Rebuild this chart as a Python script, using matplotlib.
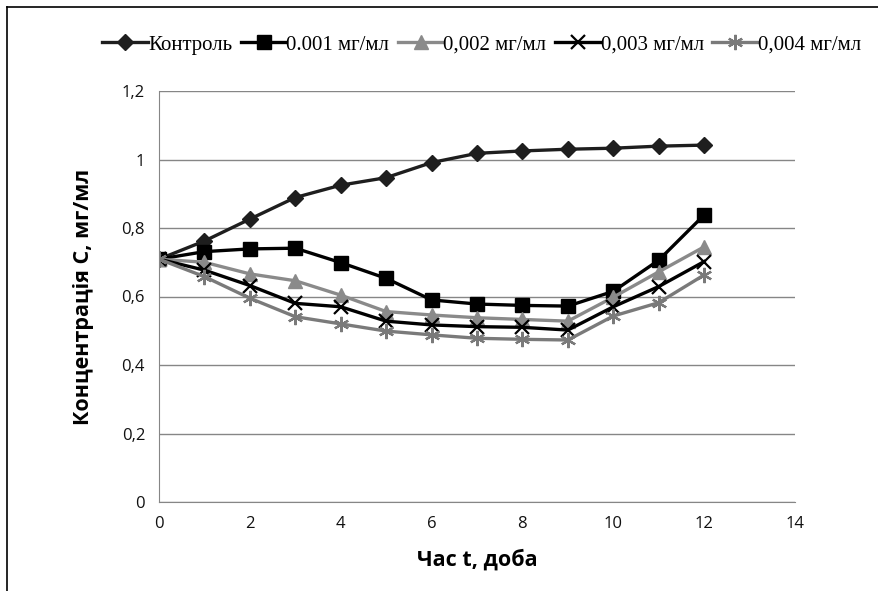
import matplotlib
matplotlib.use("Agg")
import matplotlib.pyplot as plt
from matplotlib.lines import Line2D

# Data
days = [0, 1, 2, 3, 4, 5, 6, 7, 8, 9, 10, 11, 12]
control = [0.709, 0.762, 0.826, 0.889, 0.925, 0.947, 0.991, 1.018, 1.025, 1.030, 1.033, 1.039, 1.042]
c_0001 = [0.709, 0.731, 0.739, 0.741, 0.699, 0.653, 0.590, 0.578, 0.574, 0.572, 0.615, 0.706, 0.838]
c_0002 = [0.709, 0.700, 0.666, 0.646, 0.604, 0.556, 0.546, 0.538, 0.533, 0.528, 0.598, 0.672, 0.745]
c_0003 = [0.709, 0.677, 0.632, 0.580, 0.570, 0.528, 0.517, 0.512, 0.510, 0.502, 0.570, 0.629, 0.702]
c_0004 = [0.709, 0.658, 0.595, 0.541, 0.520, 0.499, 0.488, 0.478, 0.475, 0.473, 0.543, 0.582, 0.663]

labels = ["Контроль", "0.001 мг/мл", "0,002 мг/мл", "0,003 мг/мл", "0,004 мг/мл"]

fig = plt.figure(figsize=(8.79, 5.91), dpi=100)
ax = fig.add_axes([159 / 879, 1 - 502 / 591, (795 - 159) / 879, (502 - 91) / 591])

ax.plot(days, control, color="#1e1e1e", lw=2.4, marker="D", ms=8, label=labels[0])
ax.plot(days, c_0001, color="#000000", lw=2.4, marker="s", ms=10.5, label=labels[1])
ax.plot(days, c_0002, color="#8a8a8a", lw=2.4, marker="^", ms=10, label=labels[2])
ax.plot(days, c_0003, color="#000000", lw=2.4, marker="x", ms=10, mew=1.6, label=labels[3])
ax.plot(days, c_0004, color="#7a7a7a", lw=2.4, marker=(6, 2, 0), ms=11, mew=1.6, label=labels[4])

ax.set_xlim(0, 14)
ax.set_ylim(0, 1.2)
ax.set_xticks(range(0, 15, 2))
ax.set_yticks([0, 0.2, 0.4, 0.6, 0.8, 1.0, 1.2])
ax.set_yticklabels(["0", "0,2", "0,4", "0,6", "0,8", "1", "1,2"])
ax.tick_params(length=0, labelsize=12, pad=10, colors="#111111")
for t in ax.get_xticklabels() + ax.get_yticklabels():
    t.set_family("Open Sans")

ax.grid(axis="y", color="#868686", lw=1.0)
ax.set_axisbelow(True)
for s in ["top", "right"]:
    ax.spines[s].set_visible(False)
ax.spines["left"].set_color("#868686")
ax.spines["bottom"].set_color("#868686")

ax.set_xlabel("Час t, доба", family="Open Sans", fontweight="bold", fontsize=15.5, labelpad=12)
ax.set_ylabel("Концентрація С, мг/мл", family="Open Sans", fontweight="bold", fontsize=15.5, labelpad=20)

fig.legend(loc="center", bbox_to_anchor=(0.548, 1 - 45 / 591), ncol=5, frameon=False,
           prop={"family": "Liberation Serif", "size": 15}, handlelength=2.2,
           handletextpad=0.0, columnspacing=0.4, borderaxespad=0)

# cropped page frame (top and left edges)
fig.add_artist(Line2D([7 / 879, 7 / 879], [0, 1 - 7 / 591], color="black", lw=1.2))
fig.add_artist(Line2D([7 / 879, 1], [1 - 7 / 591, 1 - 7 / 591], color="black", lw=1.2))

fig.savefig("out.png", dpi=100)
